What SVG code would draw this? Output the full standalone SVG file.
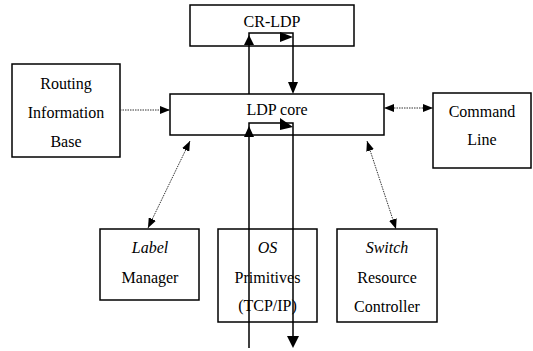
<svg xmlns="http://www.w3.org/2000/svg" width="533" height="351" viewBox="0 0 533 351">
<style>
.box{fill:#fff;stroke:#000;stroke-width:1.5}
.t{font-family:"Liberation Serif","Times New Roman",serif;font-size:16px;fill:#000;text-anchor:middle}
.i{font-style:italic}
.dot{fill:none;stroke:#333;stroke-width:1;stroke-dasharray:1.5 1}
.sol{fill:none;stroke:#000;stroke-width:1.5}
.ah{fill:#000}
</style>
<defs>
<marker id="m" viewBox="0 0 10 8" refX="10" refY="4" markerWidth="10" markerHeight="8" markerUnits="userSpaceOnUse" orient="auto-start-reverse">
<path d="M0,0 L10,4 L0,8 Z" fill="#000"/>
</marker>
</defs>
<g id="cr-ldp"><rect class="box" x="190" y="5" width="164" height="41"/><text class="t" x="272" y="27">CR-LDP</text></g>
<g id="rib"><rect class="box" x="12" y="64" width="108" height="93"/><text class="t" x="66" y="89">Routing</text><text class="t" x="66" y="118">Information</text><text class="t" x="66" y="147">Base</text></g>
<g id="ldp-core"><rect class="box" x="170" y="94" width="214" height="41"/><text class="t" x="277" y="115">LDP core</text></g>
<g id="cmd"><rect class="box" x="433" y="93" width="98" height="75"/><text class="t" x="482" y="117">Command</text><text class="t" x="482" y="145">Line</text></g>
<g id="label-mgr"><rect class="box" x="100" y="229" width="99" height="71"/><text class="t i" x="150" y="253">Label</text><text class="t" x="150" y="283">Manager</text></g>
<g id="os"><rect class="box" x="218" y="229" width="99" height="93"/><text class="t i" x="267.5" y="253">OS</text><text class="t" x="267.5" y="283">Primitives</text><text class="t" x="267.5" y="311">(TCP/IP)</text></g>
<g id="switch"><rect class="box" x="337" y="229" width="100" height="93"/><text class="t i" x="387" y="253">Switch</text><text class="t" x="387" y="283">Resource</text><text class="t" x="387" y="312">Controller</text></g>
<g id="connectors">
<line class="dot" x1="120" y1="110" x2="170" y2="110" marker-end="url(#m)"/>
<line class="dot" x1="384" y1="108" x2="433" y2="108" marker-start="url(#m)" marker-end="url(#m)"/>
<line class="dot" x1="190" y1="141" x2="148" y2="228" marker-start="url(#m)" marker-end="url(#m)"/>
<line class="dot" x1="367" y1="141" x2="396" y2="229" marker-start="url(#m)" marker-end="url(#m)"/>
<polyline class="sol" points="249,94 249,33 293,33 293,92"/>
<polygon class="ah" points="249,35 244,45 254,45"/>
<polygon class="ah" points="293,37 280,32 280,42"/>
<polygon class="ah" points="293,94 288,82 298,82"/>
<polyline class="sol" points="249,348 249,123 293,123 293,340"/>
<polygon class="ah" points="249,126 244,137 254,137"/>
<polygon class="ah" points="293,127 280,118 280,130"/>
<polygon class="ah" points="293,348 287,336 299,336"/>
</g>
</svg>
